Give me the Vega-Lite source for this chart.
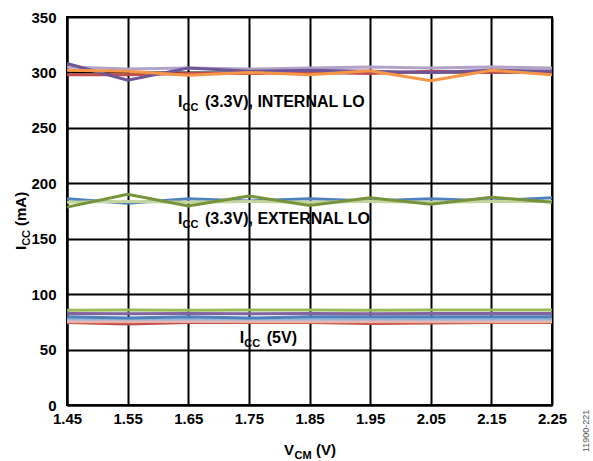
{
  "$schema": "https://vega.github.io/schema/vega-lite/v6.json",
  "width": 485,
  "height": 388,
  "autosize": {"type": "none"},
  "padding": {"left": 67, "top": 17, "right": 41, "bottom": 56},
  "background": "white",
  "config": {
    "view": {"stroke": "black", "strokeWidth": 2},
    "font": "Liberation Sans",
    "axis": {
      "labelFont": "Liberation Sans",
      "labelFontWeight": "bold",
      "labelFontSize": 15,
      "labelColor": "black",
      "gridColor": "black",
      "gridWidth": 2,
      "gridOpacity": 1,
      "domainColor": "black",
      "domainWidth": 2,
      "ticks": false,
      "title": null
    }
  },
  "datasets": {
    "lines": [
      {"series": "int_red", "v": 1.45, "i": 298}, {"series": "int_red", "v": 1.55, "i": 298}, {"series": "int_red", "v": 1.65, "i": 299}, {"series": "int_red", "v": 1.75, "i": 299}, {"series": "int_red", "v": 1.85, "i": 300}, {"series": "int_red", "v": 1.95, "i": 299}, {"series": "int_red", "v": 2.05, "i": 301}, {"series": "int_red", "v": 2.15, "i": 300}, {"series": "int_red", "v": 2.25, "i": 301},
      {"series": "int_lav", "v": 1.45, "i": 305}, {"series": "int_lav", "v": 1.55, "i": 303}, {"series": "int_lav", "v": 1.65, "i": 304}, {"series": "int_lav", "v": 1.75, "i": 303}, {"series": "int_lav", "v": 1.85, "i": 304}, {"series": "int_lav", "v": 1.95, "i": 305}, {"series": "int_lav", "v": 2.05, "i": 304}, {"series": "int_lav", "v": 2.15, "i": 305}, {"series": "int_lav", "v": 2.25, "i": 304},
      {"series": "int_pur", "v": 1.45, "i": 308}, {"series": "int_pur", "v": 1.55, "i": 293}, {"series": "int_pur", "v": 1.65, "i": 304}, {"series": "int_pur", "v": 1.75, "i": 301}, {"series": "int_pur", "v": 1.85, "i": 302}, {"series": "int_pur", "v": 1.95, "i": 301}, {"series": "int_pur", "v": 2.05, "i": 300}, {"series": "int_pur", "v": 2.15, "i": 302}, {"series": "int_pur", "v": 2.25, "i": 301},
      {"series": "int_org", "v": 1.45, "i": 302}, {"series": "int_org", "v": 1.55, "i": 301}, {"series": "int_org", "v": 1.65, "i": 297.5}, {"series": "int_org", "v": 1.75, "i": 300}, {"series": "int_org", "v": 1.85, "i": 298}, {"series": "int_org", "v": 1.95, "i": 301.5}, {"series": "int_org", "v": 2.05, "i": 292.5}, {"series": "int_org", "v": 2.15, "i": 302}, {"series": "int_org", "v": 2.25, "i": 298},
      {"series": "ext_blue", "v": 1.45, "i": 186}, {"series": "ext_blue", "v": 1.55, "i": 182}, {"series": "ext_blue", "v": 1.65, "i": 186}, {"series": "ext_blue", "v": 1.75, "i": 184}, {"series": "ext_blue", "v": 1.85, "i": 186}, {"series": "ext_blue", "v": 1.95, "i": 184}, {"series": "ext_blue", "v": 2.05, "i": 186}, {"series": "ext_blue", "v": 2.15, "i": 184}, {"series": "ext_blue", "v": 2.25, "i": 187},
      {"series": "ext_lgreen", "v": 1.45, "i": 183}, {"series": "ext_lgreen", "v": 1.55, "i": 183.5}, {"series": "ext_lgreen", "v": 1.65, "i": 183}, {"series": "ext_lgreen", "v": 1.75, "i": 183.5}, {"series": "ext_lgreen", "v": 1.85, "i": 183}, {"series": "ext_lgreen", "v": 1.95, "i": 183.5}, {"series": "ext_lgreen", "v": 2.05, "i": 183}, {"series": "ext_lgreen", "v": 2.15, "i": 183.5}, {"series": "ext_lgreen", "v": 2.25, "i": 183.5},
      {"series": "ext_olive", "v": 1.45, "i": 178.5}, {"series": "ext_olive", "v": 1.55, "i": 190}, {"series": "ext_olive", "v": 1.65, "i": 179.5}, {"series": "ext_olive", "v": 1.75, "i": 188.5}, {"series": "ext_olive", "v": 1.85, "i": 180}, {"series": "ext_olive", "v": 1.95, "i": 187}, {"series": "ext_olive", "v": 2.05, "i": 181}, {"series": "ext_olive", "v": 2.15, "i": 187.5}, {"series": "ext_olive", "v": 2.25, "i": 183},
      {"series": "v5_red", "v": 1.45, "i": 74.5}, {"series": "v5_red", "v": 1.55, "i": 73}, {"series": "v5_red", "v": 1.65, "i": 74.5}, {"series": "v5_red", "v": 1.75, "i": 74.5}, {"series": "v5_red", "v": 1.85, "i": 74.5}, {"series": "v5_red", "v": 1.95, "i": 73.5}, {"series": "v5_red", "v": 2.05, "i": 74}, {"series": "v5_red", "v": 2.15, "i": 74.5}, {"series": "v5_red", "v": 2.25, "i": 74.5},
      {"series": "v5_org", "v": 1.45, "i": 75}, {"series": "v5_org", "v": 1.55, "i": 75}, {"series": "v5_org", "v": 1.65, "i": 75.5}, {"series": "v5_org", "v": 1.75, "i": 75}, {"series": "v5_org", "v": 1.85, "i": 75}, {"series": "v5_org", "v": 1.95, "i": 75}, {"series": "v5_org", "v": 2.05, "i": 75}, {"series": "v5_org", "v": 2.15, "i": 75}, {"series": "v5_org", "v": 2.25, "i": 75},
      {"series": "v5_pink", "v": 1.45, "i": 75.5}, {"series": "v5_pink", "v": 1.55, "i": 75.5}, {"series": "v5_pink", "v": 1.65, "i": 75.5}, {"series": "v5_pink", "v": 1.75, "i": 75.5}, {"series": "v5_pink", "v": 1.85, "i": 75.5}, {"series": "v5_pink", "v": 1.95, "i": 75.5}, {"series": "v5_pink", "v": 2.05, "i": 75.5}, {"series": "v5_pink", "v": 2.15, "i": 75.5}, {"series": "v5_pink", "v": 2.25, "i": 75.5},
      {"series": "v5_lblue", "v": 1.45, "i": 77.5}, {"series": "v5_lblue", "v": 1.55, "i": 77.5}, {"series": "v5_lblue", "v": 1.65, "i": 77.5}, {"series": "v5_lblue", "v": 1.75, "i": 77.5}, {"series": "v5_lblue", "v": 1.85, "i": 77.5}, {"series": "v5_lblue", "v": 1.95, "i": 77.5}, {"series": "v5_lblue", "v": 2.05, "i": 77.5}, {"series": "v5_lblue", "v": 2.15, "i": 77.5}, {"series": "v5_lblue", "v": 2.25, "i": 77.5},
      {"series": "v5_blue", "v": 1.45, "i": 79.5}, {"series": "v5_blue", "v": 1.55, "i": 78.5}, {"series": "v5_blue", "v": 1.65, "i": 79.5}, {"series": "v5_blue", "v": 1.75, "i": 78.5}, {"series": "v5_blue", "v": 1.85, "i": 79.5}, {"series": "v5_blue", "v": 1.95, "i": 79.5}, {"series": "v5_blue", "v": 2.05, "i": 79.5}, {"series": "v5_blue", "v": 2.15, "i": 79.5}, {"series": "v5_blue", "v": 2.25, "i": 79.5},
      {"series": "v5_pur", "v": 1.45, "i": 82.5}, {"series": "v5_pur", "v": 1.55, "i": 82.3}, {"series": "v5_pur", "v": 1.65, "i": 82.6}, {"series": "v5_pur", "v": 1.75, "i": 82.4}, {"series": "v5_pur", "v": 1.85, "i": 82.5}, {"series": "v5_pur", "v": 1.95, "i": 82.4}, {"series": "v5_pur", "v": 2.05, "i": 82.6}, {"series": "v5_pur", "v": 2.15, "i": 82.5}, {"series": "v5_pur", "v": 2.25, "i": 82.5},
      {"series": "v5_green", "v": 1.45, "i": 85.5}, {"series": "v5_green", "v": 1.55, "i": 85.7}, {"series": "v5_green", "v": 1.65, "i": 85.5}, {"series": "v5_green", "v": 1.75, "i": 85.8}, {"series": "v5_green", "v": 1.85, "i": 85.6}, {"series": "v5_green", "v": 1.95, "i": 85.5}, {"series": "v5_green", "v": 2.05, "i": 85.7}, {"series": "v5_green", "v": 2.15, "i": 85.6}, {"series": "v5_green", "v": 2.25, "i": 85.6}
    ],
    "notes": [
      {"v": 1.633, "i": 268.8, "rest": "(3.3V), INTERNAL LO"},
      {"v": 1.633, "i": 163.3, "rest": "(3.3V), EXTERNAL LO"},
      {"v": 1.735, "i": 55.9, "rest": "(5V)"}
    ],
    "ytitle": [{"v": 1.3824, "i": 139.8}],
    "xtitle": [{"v": 1.8079, "i": -45.1}],
    "side": [{"v": 2.311, "i": -42.4, "code": "11900-221"}]
  },
  "layer": [
    {
      "data": {"name": "lines"},
      "mark": {"type": "line", "strokeWidth": 3},
      "encoding": {
        "x": {
          "field": "v", "type": "quantitative",
          "scale": {"domain": [1.45, 2.25], "nice": false, "zero": false},
          "axis": {"values": [1.45, 1.55, 1.65, 1.75, 1.85, 1.95, 2.05, 2.15, 2.25], "format": ".2f", "labelPadding": 6, "labelFlush": false, "grid": true}
        },
        "y": {
          "field": "i", "type": "quantitative",
          "scale": {"domain": [0, 350], "nice": false},
          "axis": {"values": [0, 50, 100, 150, 200, 250, 300, 350], "labelPadding": 11, "grid": true}
        },
        "color": {
          "field": "series", "type": "nominal", "legend": null,
          "scale": {
            "domain": ["int_red", "int_lav", "int_pur", "int_org", "ext_blue", "ext_lgreen", "ext_olive", "v5_red", "v5_org", "v5_pink", "v5_lblue", "v5_blue", "v5_pur", "v5_green"],
            "range": ["#C0504D", "#B3A2C7", "#6F5597", "#F79646", "#4F81BD", "#C3D69B", "#77933C", "#C0504D", "#F79646", "#E6B9B8", "#95B3D7", "#4F81BD", "#8064A2", "#9BBB59"]
          }
        },
        "order": {"field": "v", "type": "quantitative"}
      }
    },
    {
      "data": {"name": "notes"},
      "layer": [
        {"mark": {"type": "text", "align": "left", "baseline": "alphabetic", "fontWeight": "bold", "fontSize": 16, "font": "Liberation Sans", "color": "black"},
         "encoding": {"text": {"value": "I"}}},
        {"mark": {"type": "text", "align": "left", "baseline": "alphabetic", "fontWeight": "bold", "fontSize": 11, "font": "Liberation Sans", "color": "black", "dx": 4.5, "dy": 4},
         "encoding": {"text": {"value": "CC"}}},
        {"mark": {"type": "text", "align": "left", "baseline": "alphabetic", "fontWeight": "bold", "fontSize": 16, "font": "Liberation Sans", "color": "black", "dx": 27},
         "encoding": {"text": {"field": "rest"}}}
      ],
      "encoding": {
        "x": {"field": "v", "type": "quantitative"},
        "y": {"field": "i", "type": "quantitative"}
      }
    },
    {
      "data": {"name": "ytitle"},
      "layer": [
        {"mark": {"type": "text", "align": "left", "baseline": "alphabetic", "angle": 270, "fontWeight": "bold", "fontSize": 15, "font": "Liberation Sans", "color": "black"},
         "encoding": {"text": {"value": "I"}}},
        {"mark": {"type": "text", "align": "left", "baseline": "alphabetic", "angle": 270, "fontWeight": "bold", "fontSize": 11, "font": "Liberation Sans", "color": "black", "dx": 4.2, "dy": 4},
         "encoding": {"text": {"value": "CC"}}},
        {"mark": {"type": "text", "align": "left", "baseline": "alphabetic", "angle": 270, "fontWeight": "bold", "fontSize": 15, "font": "Liberation Sans", "color": "black", "dx": 24},
         "encoding": {"text": {"value": "(mA)"}}}
      ],
      "encoding": {
        "x": {"field": "v", "type": "quantitative"},
        "y": {"field": "i", "type": "quantitative"}
      }
    },
    {
      "data": {"name": "xtitle"},
      "layer": [
        {"mark": {"type": "text", "align": "left", "baseline": "alphabetic", "fontWeight": "bold", "fontSize": 15, "font": "Liberation Sans", "color": "black"},
         "encoding": {"text": {"value": "V"}}},
        {"mark": {"type": "text", "align": "left", "baseline": "alphabetic", "fontWeight": "bold", "fontSize": 11, "font": "Liberation Sans", "color": "black", "dx": 10.5, "dy": 4},
         "encoding": {"text": {"value": "CM"}}},
        {"mark": {"type": "text", "align": "left", "baseline": "alphabetic", "fontWeight": "bold", "fontSize": 15, "font": "Liberation Sans", "color": "black", "dx": 32},
         "encoding": {"text": {"value": "(V)"}}}
      ],
      "encoding": {
        "x": {"field": "v", "type": "quantitative"},
        "y": {"field": "i", "type": "quantitative"}
      }
    },
    {
      "data": {"name": "side"},
      "mark": {"type": "text", "align": "left", "baseline": "alphabetic", "angle": 270, "fontSize": 9, "font": "Liberation Sans", "color": "#555555"},
      "encoding": {
        "x": {"field": "v", "type": "quantitative"},
        "y": {"field": "i", "type": "quantitative"},
        "text": {"field": "code"}
      }
    }
  ]
}
